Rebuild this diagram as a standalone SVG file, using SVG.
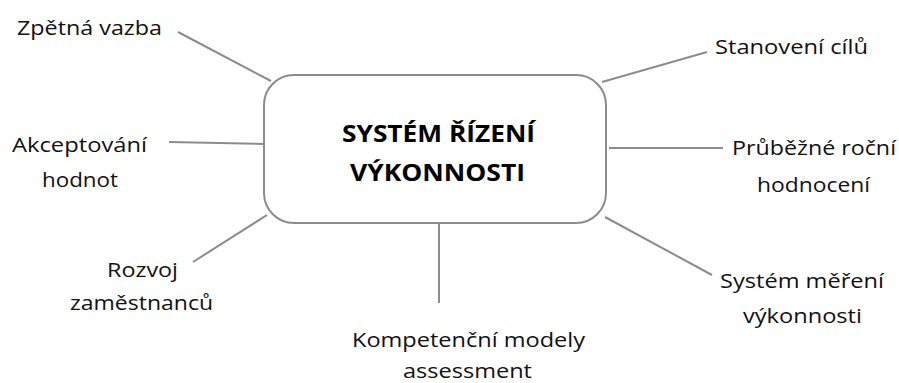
<svg xmlns="http://www.w3.org/2000/svg" width="899" height="383" viewBox="0 0 899 383">
<style>
.lbl{font-family:"Open Sans","Noto Sans","Liberation Sans",sans-serif;font-size:20px;fill:#111;text-anchor:middle}
.ttl{font-family:"Open Sans","Noto Sans","Liberation Sans",sans-serif;font-size:23px;font-weight:bold;fill:#000;text-anchor:middle}
.con{stroke:#8c8c8c;stroke-width:2;fill:none}
</style>
<rect width="899" height="383" fill="#fff"/>
<g id="connectors">
<line class="con" x1="178" y1="32" x2="271" y2="81"/>
<line class="con" x1="602" y1="82" x2="707" y2="52"/>
<line class="con" x1="609" y1="148" x2="723" y2="148"/>
<line class="con" x1="169" y1="142" x2="265" y2="144"/>
<line class="con" x1="193" y1="262" x2="267" y2="215"/>
<line class="con" x1="439" y1="223" x2="439" y2="303"/>
<line class="con" x1="605" y1="217" x2="712" y2="275"/>
</g>
<g id="center">
<rect x="264" y="75" width="342" height="148" rx="30" ry="30" fill="#fff" stroke="#8c8c8c" stroke-width="2"/>
<text class="ttl" x="438.5" y="142" textLength="193" lengthAdjust="spacingAndGlyphs">SYSTÉM ŘÍZENÍ</text>
<text class="ttl" x="437.5" y="181" textLength="175" lengthAdjust="spacingAndGlyphs">VÝKONNOSTI</text>
</g>
<g id="zpetna-vazba">
<text class="lbl" x="89.5" y="35" textLength="145" lengthAdjust="spacingAndGlyphs">Zpětná vazba</text>
</g>
<g id="stanoveni-cilu">
<text class="lbl" x="791.5" y="54" textLength="153" lengthAdjust="spacingAndGlyphs">Stanovení cílů</text>
</g>
<g id="prubezne-rocni-hodnoceni">
<text class="lbl" x="814" y="155" textLength="164" lengthAdjust="spacingAndGlyphs">Průběžné roční</text>
<text class="lbl" x="813.5" y="192" textLength="113" lengthAdjust="spacingAndGlyphs">hodnocení</text>
</g>
<g id="akceptovani-hodnot">
<text class="lbl" x="79.5" y="152" textLength="135" lengthAdjust="spacingAndGlyphs">Akceptování</text>
<text class="lbl" x="80" y="187" textLength="76" lengthAdjust="spacingAndGlyphs">hodnot</text>
</g>
<g id="rozvoj-zamestnancu">
<text class="lbl" x="142.5" y="277" textLength="71" lengthAdjust="spacingAndGlyphs">Rozvoj</text>
<text class="lbl" x="141.5" y="310" textLength="143" lengthAdjust="spacingAndGlyphs">zaměstnanců</text>
</g>
<g id="kompetencni-modely">
<text class="lbl" x="468.5" y="347" textLength="233" lengthAdjust="spacingAndGlyphs">Kompetenční modely</text>
<text class="lbl" x="467.5" y="378" textLength="129" lengthAdjust="spacingAndGlyphs">assessment</text>
</g>
<g id="system-mereni-vykonnosti">
<text class="lbl" x="802" y="288" textLength="164" lengthAdjust="spacingAndGlyphs">Systém měření</text>
<text class="lbl" x="802.5" y="323" textLength="119" lengthAdjust="spacingAndGlyphs">výkonnosti</text>
</g>
</svg>
